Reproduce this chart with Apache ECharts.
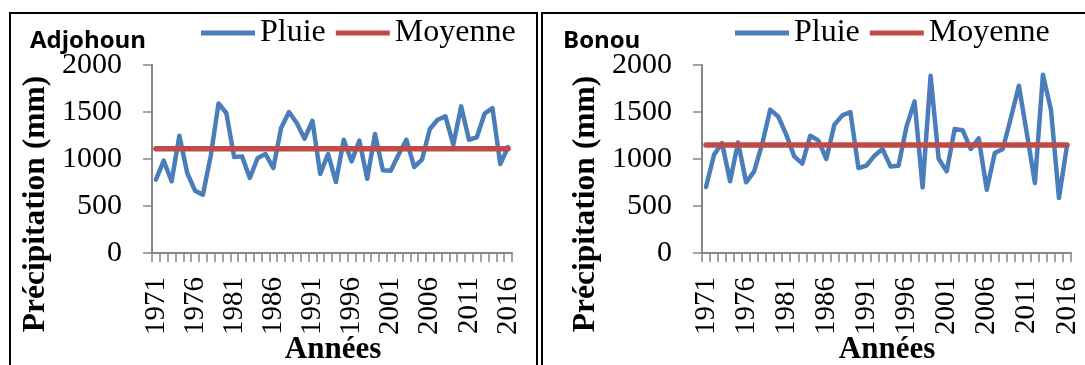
<!DOCTYPE html>
<html>
<head>
<meta charset="utf-8">
<script src="https://cdn.jsdelivr.net/npm/echarts@6/dist/echarts.min.js"></script>
<style>
html,body{margin:0;padding:0;background:#fff;}
#c{width:1085px;height:365px;}
</style>
</head>
<body>
<div id="c"></div>
<script>
// ---- data ----
const years = [];
for (let y = 1971; y <= 2016; y++) years.push(String(y));

const pluieAdjohoun = [780, 982, 763, 1248, 851, 663, 620, 1030, 1590, 1489,
  1021, 1028, 798, 1011, 1053, 904, 1330, 1500, 1383, 1216,
  1407, 840, 1053, 755, 1205, 975, 1195, 790, 1266, 880,
  875, 1046, 1205, 915, 993, 1319, 1418, 1454, 1152, 1560,
  1205, 1231, 1482, 1542, 947, 1128];
const moyenneAdjohoun = 1110;

const pluieBonou = [702, 1046, 1170, 763, 1177, 752, 868, 1160, 1525, 1453,
  1259, 1028, 950, 1248, 1198, 1000, 1365, 1464, 1500, 904,
  929, 1035, 1106, 921, 929, 1347, 1613, 698, 1886, 1003,
  868, 1319, 1305, 1106, 1219, 673, 1064, 1106, 1436, 1780,
  1269, 745, 1897, 1525, 585, 1141];
const moyenneBonou = 1150;

const yTicks = [0, 500, 1000, 1500, 2000];
const stations = ['Adjohoun', 'Bonou'];
const seriesNames = ['Pluie', 'Moyenne'];
const yAxisTitle = 'Précipitation (mm)';
const xAxisTitle = 'Années';

// ---- chart ----
const serif = 'Liberation Serif, Times New Roman, serif';
const blue = '#4A7EBB';
const red = '#BE4B48';
const axisGray = '#868686';

function xAxisCfg(gi) {
  return {
    type: 'category', gridIndex: gi, data: years, boundaryGap: true,
    axisLine: {lineStyle: {color: axisGray, width: 2}},
    axisTick: {show: true, interval: 0, length: 9, lineStyle: {color: axisGray, width: 1.5}},
    axisLabel: {interval: 4, rotate: 90, margin: 24, color: '#000', fontFamily: serif, fontSize: 29}
  };
}
function yAxisCfg(gi) {
  return {
    type: 'value', gridIndex: gi, min: yTicks[0], max: yTicks[yTicks.length - 1], interval: 500,
    splitLine: {show: false},
    axisLine: {show: true, lineStyle: {color: axisGray, width: 2}},
    axisTick: {show: true, length: 9, lineStyle: {color: axisGray, width: 1.5}},
    axisLabel: {margin: 30, color: '#000', fontFamily: serif, fontSize: 30, formatter: v => String(v)}
  };
}
function lineSeries(name, data, gi, color, width, z) {
  return {
    name: name, type: 'line', xAxisIndex: gi, yAxisIndex: gi, data: data,
    symbol: 'none', silent: true, animation: false, z: z,
    lineStyle: {color: color, width: width, cap: 'round', join: 'round'},
    itemStyle: {color: color}
  };
}
function legendCfg(left) {
  return {
    left: left, top: 17, padding: 0, itemGap: 10, itemWidth: 54, itemHeight: 5,
    icon: 'rect', data: seriesNames,
    textStyle: {fontFamily: serif, fontSize: 32, color: '#000'}
  };
}

const chart = echarts.init(document.getElementById('c'), null, {renderer: 'canvas'});
chart.setOption({
  animation: false,
  backgroundColor: '#fff',
  grid: [
    {left: 152, top: 65, width: 360, height: 188},
    {left: 702, top: 65, width: 369, height: 188}
  ],
  xAxis: [xAxisCfg(0), xAxisCfg(1)],
  yAxis: [yAxisCfg(0), yAxisCfg(1)],
  legend: [legendCfg(201), legendCfg(735)],
  series: [
    lineSeries(seriesNames[0], pluieAdjohoun, 0, blue, 4.5, 2),
    lineSeries(seriesNames[1], years.map(() => moyenneAdjohoun), 0, red, 5.5, 3),
    lineSeries(seriesNames[0], pluieBonou, 1, blue, 4.5, 2),
    lineSeries(seriesNames[1], years.map(() => moyenneBonou), 1, red, 5.5, 3)
  ],
  graphic: [
    {type: 'rect', shape: {x: 10, y: 13, width: 527, height: 400}, style: {fill: 'none', stroke: '#000', lineWidth: 2}, silent: true},
    {type: 'rect', shape: {x: 542, y: 13, width: 600, height: 400}, style: {fill: 'none', stroke: '#000', lineWidth: 2}, silent: true},
    {type: 'text', x: 30, y: 41, style: {text: stations[0], fontFamily: 'Open Sans', fontWeight: 'bold', fontSize: 24, fill: '#000', textAlign: 'left', textVerticalAlign: 'middle'}},
    {type: 'text', x: 563, y: 41, style: {text: stations[1], fontFamily: 'Open Sans', fontWeight: 'bold', fontSize: 24, fill: '#000', textAlign: 'left', textVerticalAlign: 'middle'}},
    {type: 'text', x: 36, y: 204, rotation: Math.PI / 2, style: {text: yAxisTitle, fontFamily: serif, fontWeight: 'bold', fontSize: 31.5, fill: '#000', textAlign: 'center', textVerticalAlign: 'middle'}},
    {type: 'text', x: 586, y: 204, rotation: Math.PI / 2, style: {text: yAxisTitle, fontFamily: serif, fontWeight: 'bold', fontSize: 31.5, fill: '#000', textAlign: 'center', textVerticalAlign: 'middle'}},
    {type: 'text', x: 333, y: 350, style: {text: xAxisTitle, fontFamily: serif, fontWeight: 'bold', fontSize: 31, fill: '#000', textAlign: 'center', textVerticalAlign: 'middle'}},
    {type: 'text', x: 887, y: 350, style: {text: xAxisTitle, fontFamily: serif, fontWeight: 'bold', fontSize: 31, fill: '#000', textAlign: 'center', textVerticalAlign: 'middle'}}
  ]
});
</script>
</body>
</html>
